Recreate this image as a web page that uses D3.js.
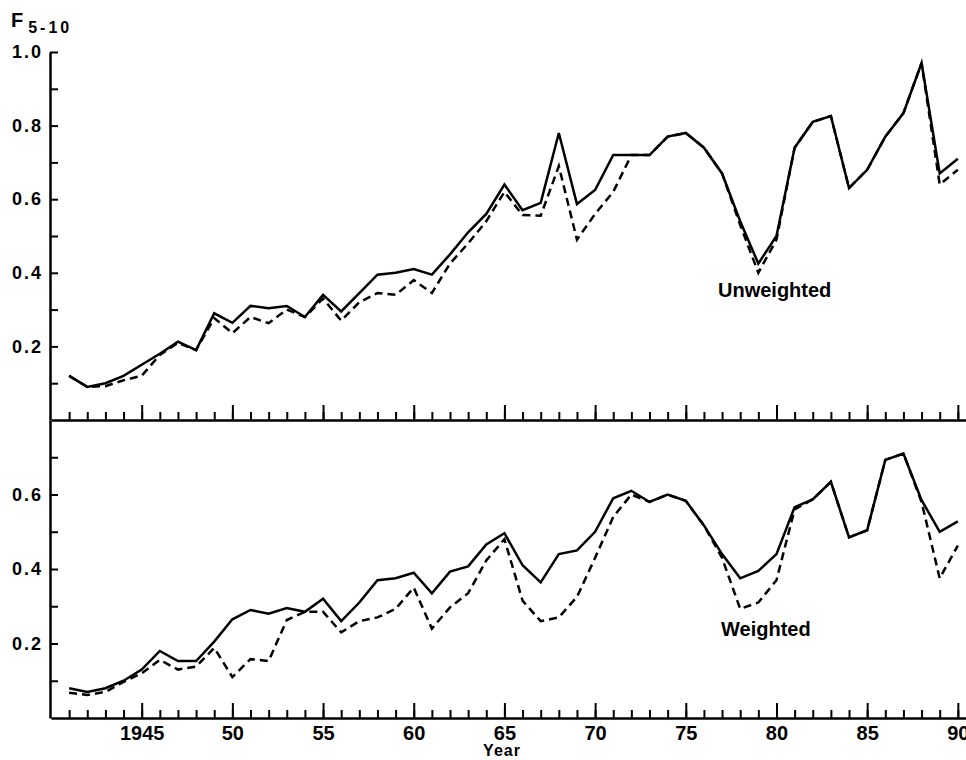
<!DOCTYPE html>
<html>
    <head>
        <meta charset="utf-8">
        <script src="https://cdn.jsdelivr.net/npm/d3@7/dist/d3.min.js"></script>
        <style type="text/css">
            body{
                margin: 0;
                padding: 0;
                background-color: #FFFFFF;
            }
            text{ font-family: "Liberation Sans", Arial, sans-serif; font-weight: bold; fill: #000; }
        </style>
    </head>
    <body>
    <div id="chart"></div>
    </body>
</html>

<script>
    var years = [1941, 1942, 1943, 1944, 1945, 1946, 1947, 1948, 1949, 1950,
                 1951, 1952, 1953, 1954, 1955, 1956, 1957, 1958, 1959, 1960,
                 1961, 1962, 1963, 1964, 1965, 1966, 1967, 1968, 1969, 1970,
                 1971, 1972, 1973, 1974, 1975, 1976, 1977, 1978, 1979, 1980,
                 1981, 1982, 1983, 1984, 1985, 1986, 1987, 1988, 1989, 1990];

    // upper panel (unweighted)
    var topSolid = [0.12, 0.09, 0.10, 0.12, 0.15, 0.18, 0.213, 0.19, 0.29, 0.264,
                    0.31, 0.304, 0.31, 0.28, 0.34, 0.295, 0.345, 0.395, 0.40, 0.41,
                    0.395, 0.45, 0.51, 0.56, 0.64, 0.57, 0.59, 0.78, 0.587, 0.625,
                    0.72, 0.72, 0.72, 0.77, 0.78, 0.74, 0.67, 0.54, 0.425, 0.50,
                    0.74, 0.81, 0.826, 0.63, 0.68, 0.77, 0.834, 0.97, 0.67, 0.71];
    var topDashed = [0.12, 0.09, 0.092, 0.108, 0.12, 0.177, 0.21, 0.19, 0.277, 0.236,
                     0.28, 0.263, 0.30, 0.28, 0.33, 0.27, 0.32, 0.345, 0.34, 0.38,
                     0.345, 0.425, 0.48, 0.54, 0.62, 0.557, 0.555, 0.69, 0.49, 0.56,
                     0.62, 0.72, 0.72, 0.77, 0.78, 0.74, 0.67, 0.53, 0.40, 0.49,
                     0.74, 0.81, 0.826, 0.63, 0.68, 0.77, 0.834, 0.97, 0.64, 0.68];

    // lower panel (weighted)
    var botSolid = [0.08, 0.07, 0.08, 0.10, 0.13, 0.18, 0.153, 0.153, 0.205, 0.265,
                    0.29, 0.28, 0.295, 0.285, 0.32, 0.26, 0.31, 0.37, 0.375, 0.39,
                    0.335, 0.393, 0.407, 0.466, 0.496, 0.41, 0.364, 0.44, 0.45, 0.50,
                    0.59, 0.61, 0.58, 0.60, 0.583, 0.517, 0.44, 0.375, 0.395, 0.44,
                    0.566, 0.587, 0.634, 0.485, 0.504, 0.693, 0.71, 0.585, 0.50, 0.528];
    var botDashed = [0.068, 0.062, 0.07, 0.097, 0.12, 0.156, 0.13, 0.138, 0.188, 0.11,
                     0.158, 0.153, 0.263, 0.285, 0.285, 0.23, 0.26, 0.27, 0.293, 0.35,
                     0.24, 0.297, 0.335, 0.423, 0.48, 0.315, 0.26, 0.27, 0.325, 0.43,
                     0.54, 0.60, 0.58, 0.60, 0.583, 0.517, 0.43, 0.293, 0.31, 0.37,
                     0.56, 0.587, 0.634, 0.485, 0.504, 0.693, 0.71, 0.58, 0.375, 0.463];

    var majorYears = [1945, 1950, 1955, 1960, 1965, 1970, 1975, 1980, 1985, 1990];
    var yearLabels = ["1945", "50", "55", "60", "65", "70", "75", "80", "85", "90"];
    var topTicks = [0.1, 0.2, 0.3, 0.4, 0.5, 0.6, 0.7, 0.8, 0.9, 1.0];
    var topLabels = [0.2, 0.4, 0.6, 0.8, 1.0];
    var botTicks = [0.1, 0.2, 0.3, 0.4, 0.5, 0.6, 0.7];
    var botLabels = [0.2, 0.4, 0.6];

    var width = 966, height = 760;

    var svg = d3.select("#chart")
        .append("svg")
        .attr("width", width)
        .attr("height", height);

    var x = d3.scaleLinear().domain([1940, 1990.45]).range([51, 966]);
    var yTop = d3.scaleLinear().domain([0, 1]).range([420, 52]);
    var yBot = d3.scaleLinear().domain([0, 0.8]).range([718, 420]);

    function drawXAxis(yPos, withLabels) {
        var minor = svg.append("g")
            .attr("transform", "translate(0," + yPos + ")")
            .call(d3.axisBottom(x).tickValues(years).tickSize(-8).tickSizeOuter(0).tickFormat(""));
        minor.select(".domain").attr("stroke-width", 2.5);
        minor.selectAll(".tick line").attr("stroke-width", 2);

        var major = svg.append("g")
            .attr("transform", "translate(0," + yPos + ")")
            .call(d3.axisBottom(x).tickValues(majorYears).tickSize(-15).tickSizeOuter(0)
                .tickPadding(8)
                .tickFormat(function(d, i) { return withLabels ? yearLabels[i] : ""; }));
        major.select(".domain").remove();
        major.selectAll(".tick line").attr("stroke-width", 2);
        major.selectAll(".tick text")
            .attr("font-size", 20)
            .attr("dy", "0.7em")
            .style("font-family", "Liberation Sans, Arial, sans-serif")
            .style("font-weight", "bold");
    }

    function drawYAxis(scale, ticks, labels) {
        var g = svg.append("g")
            .attr("transform", "translate(50,0)")
            .call(d3.axisLeft(scale).tickValues(ticks).tickSize(-8).tickSizeOuter(0)
                .tickPadding(7)
                .tickFormat(function(d) {
                    return labels.indexOf(d) >= 0 ? d3.format(".1f")(d) : "";
                }));
        g.select(".domain").attr("stroke-width", 2.5);
        g.selectAll(".tick line").attr("stroke-width", 2);
        g.selectAll(".tick text")
            .attr("font-size", 18)
            .style("letter-spacing", "2px")
            .style("font-family", "Liberation Sans, Arial, sans-serif")
            .style("font-weight", "bold");
    }

    drawYAxis(yTop, topTicks, topLabels);
    drawYAxis(yBot, botTicks, botLabels);
    drawXAxis(420, false);
    drawXAxis(718, true);

    function drawLine(values, scale, dashed) {
        var line = d3.line()
            .x(function(d, i) { return x(years[i]); })
            .y(function(d) { return scale(d); });
        svg.append("path")
            .datum(values)
            .attr("d", line)
            .attr("fill", "none")
            .attr("stroke", "#000")
            .attr("stroke-width", 2.5)
            .attr("stroke-linejoin", "miter")
            .attr("stroke-dasharray", dashed ? "8,5" : null);
    }

    drawLine(topDashed, yTop, true);
    drawLine(topSolid, yTop, false);
    drawLine(botDashed, yBot, true);
    drawLine(botSolid, yBot, false);

    // labels
    var title = svg.append("text")
        .attr("x", 11)
        .attr("y", 27);
    title.append("tspan")
        .attr("font-size", 20)
        .text("F");
    title.append("tspan")
        .attr("font-size", 16)
        .attr("dx", 5)
        .attr("dy", 6)
        .style("letter-spacing", "3px")
        .text("5-10");

    svg.append("text")
        .attr("x", 718)
        .attr("y", 297)
        .attr("font-size", 20)
        .text("Unweighted");

    svg.append("text")
        .attr("x", 721)
        .attr("y", 636)
        .attr("font-size", 20)
        .text("Weighted");

    svg.append("text")
        .attr("x", 502)
        .attr("y", 756)
        .attr("text-anchor", "middle")
        .attr("font-size", 16)
        .style("letter-spacing", "1px")
        .text("Year");
</script>
